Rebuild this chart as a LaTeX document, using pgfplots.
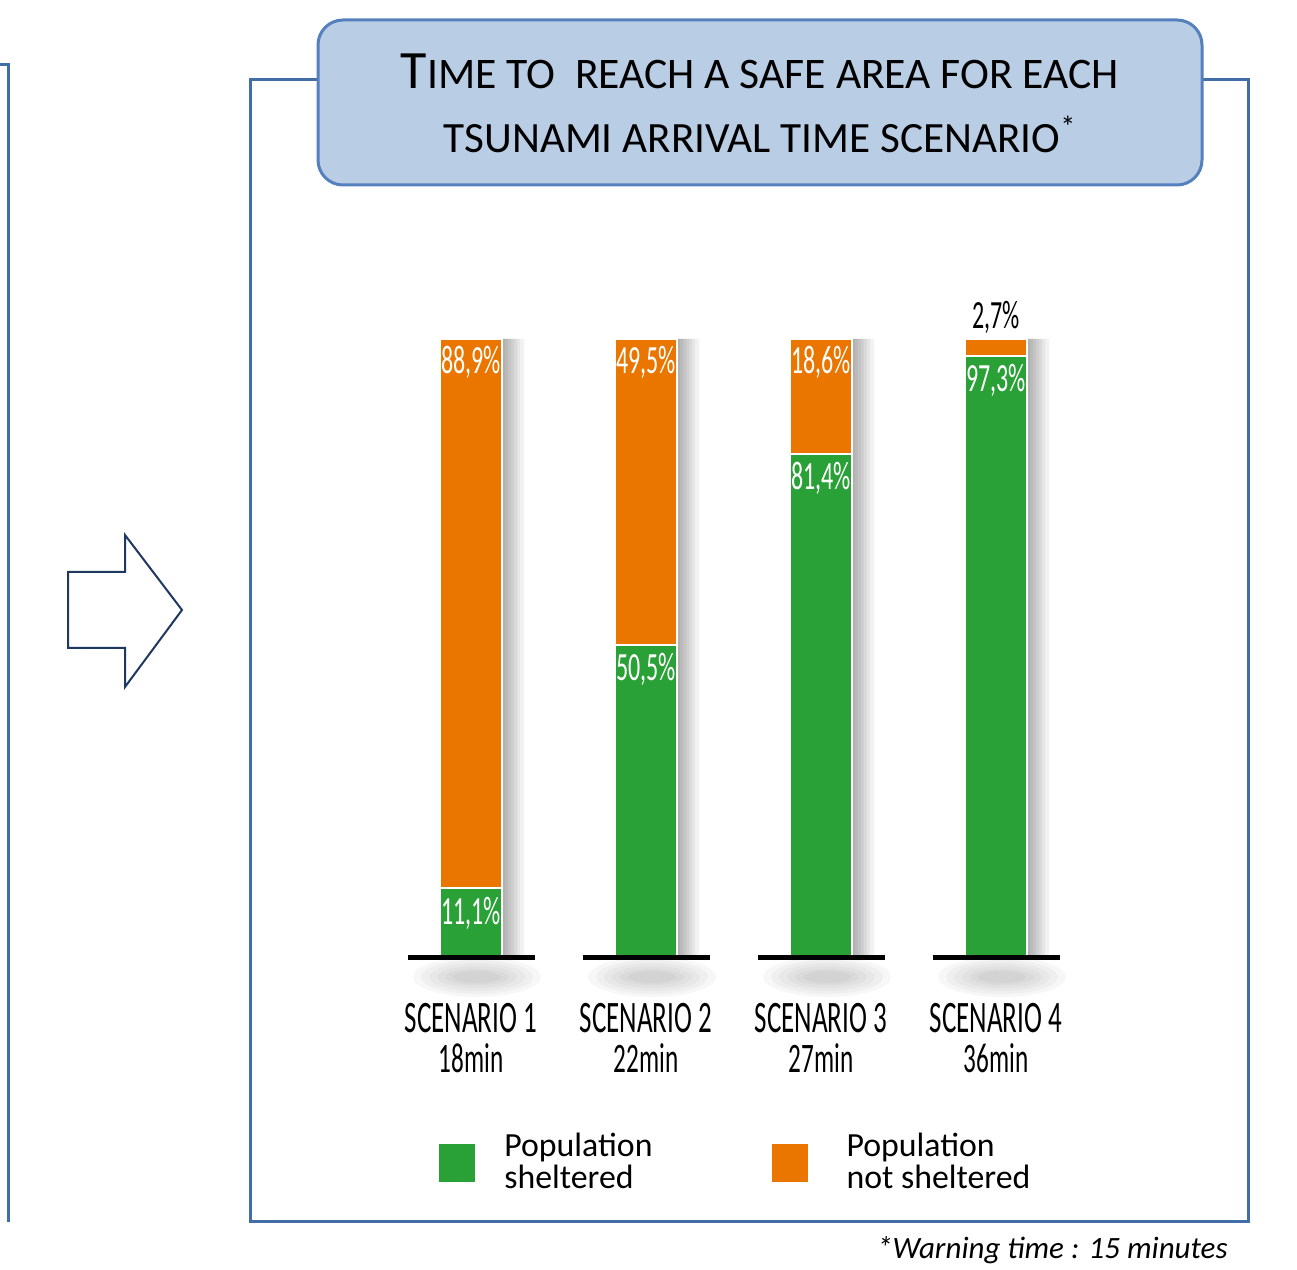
\documentclass[border=0pt]{standalone}
\usepackage{fontspec}
\setmainfont{Carlito}
\newfontfamily\condfont[FakeStretch=0.6]{Carlito}
\usepackage{pgfplots}
\usepackage{pgfplotstable}
\pgfplotsset{compat=1.18}
\definecolor{barorange}{RGB}{234,118,0}
\definecolor{bargreen}{RGB}{41,161,54}
\definecolor{frameblue}{RGB}{66,110,168}
\definecolor{titlefill}{RGB}{185,205,229}
\definecolor{titleborder}{RGB}{84,128,190}
\definecolor{arrowblue}{RGB}{31,56,96}

\pgfplotstableread{
x sheltered notsheltered total
1 11.1 88.9 100
2 50.5 49.5 100
3 81.4 18.6 100
4 97.3 2.7 100
}\datatable

\pgfplotsset{
  chartframe/.style={
    at={(191.75pt,156.5pt)}, anchor=south west, scale only axis,
    width=350pt, height=309pt,
    xmin=0.5, xmax=4.5, ymin=0, ymax=100, clip=false,
  },
  shadowbar/.style={ybar, fill=black, draw=none, opacity=0.05},
}

\begin{document}
\begin{tikzpicture}
\useasboundingbox (0pt,0pt) rectangle (648.5pt,635pt);
\begin{scope}[x=0.5pt,y=0.5pt]
% left partial frame
\draw[frameblue, line width=1.5pt] (0,1205) -- (8,1205) -- (8,48);
% arrow
\draw[arrowblue, line width=1pt, fill=white, line join=miter]
  (68,698) -- (125,698) -- (125,735) -- (182,660) -- (125,583) -- (125,622) -- (68,622) -- cycle;
% main frame
\draw[frameblue, line width=1.5pt] (250,48) rectangle (1248,1190);
% title box
\draw[titleborder, line width=1.5pt, fill=titlefill, rounded corners=12.5pt] (318,1085) rectangle (1202,1250);
\node[anchor=base, inner sep=0pt] at (760,1181)
  {\fontsize{21.8}{21.8}\selectfont{\fontsize{27}{27}\selectfont T}IME TO\ \ REACH A SAFE AREA FOR EACH};
\node[anchor=base, inner sep=0pt] at (760,1117)
  {\fontsize{21.6}{21.6}\selectfont TSUNAMI ARRIVAL TIME SCENARIO\textsuperscript{*}};
% footnote
\node[anchor=base east, inner sep=0pt] at (1228,11)
  {\fontsize{15.5}{15.5}\selectfont\itshape *Warning time : 15 minutes};
\end{scope}

% shadows of the bars
\begin{axis}[chartframe, hide axis]
\addplot[shadowbar, bar width=1.5pt, bar shift=16.25pt] table[x=x,y=total]{\datatable};
\addplot[shadowbar, bar width=3pt, bar shift=17pt] table[x=x,y=total]{\datatable};
\addplot[shadowbar, bar width=4.5pt, bar shift=17.75pt] table[x=x,y=total]{\datatable};
\addplot[shadowbar, bar width=6pt, bar shift=18.5pt] table[x=x,y=total]{\datatable};
\addplot[shadowbar, bar width=7.5pt, bar shift=19.25pt] table[x=x,y=total]{\datatable};
\addplot[shadowbar, bar width=9pt, bar shift=20pt] table[x=x,y=total]{\datatable};
\addplot[shadowbar, bar width=11pt, bar shift=21pt] table[x=x,y=total]{\datatable};
% soft shadow under each baseline (stacked translucent ellipses)
\foreach \c in {1,2,3,4}{
  \foreach \rx/\ry in {32/10,28/8.5,24/7,20/5.5,16/4,12/3}{
    \edef\tmp{\noexpand\fill[black, opacity=0.03]
      ([xshift=3pt,yshift=-10pt]axis cs:\c,0) ellipse (\rx pt and \ry pt);}
    \tmp
  }
}
\end{axis}

\begin{axis}[chartframe,
  ybar stacked, bar width=31pt,
  axis x line*=bottom, axis y line=none,
  x axis line style={draw=none},
  major tick length=0pt,
  xtick={1,2,3,4},
  xticklabels={{SCENARIO 1\\{\fontsize{21}{21}\selectfont 18min}},
               {SCENARIO 2\\{\fontsize{21}{21}\selectfont 22min}},
               {SCENARIO 3\\{\fontsize{21}{21}\selectfont 27min}},
               {SCENARIO 4\\{\fontsize{21}{21}\selectfont 36min}}},
  xticklabel style={align=center, inner sep=0pt, yshift=-23pt,
    font=\condfont\fontsize{22.5}{20}\selectfont},
  legend columns=2,
  legend style={at={(axis description cs:0.0764,-0.332)}, anchor=west,
    draw=none, fill=none, inner sep=0pt,
    font=\fontsize{16.9}{16}\selectfont,
    cells={align=left, anchor=west},
    /tikz/column 1/.style={column sep=11.5pt},
    /tikz/column 2/.style={column sep=56.5pt},
    /tikz/column 3/.style={column sep=16.5pt}},
  legend image code/.code={\fill[#1] (0pt,-10.5pt) rectangle (19pt,9.5pt);},
]
\addplot[fill=bargreen, draw=white, line width=1pt] table[x=x,y=sheltered]{\datatable};
\addplot[fill=barorange, draw=white, line width=1pt] table[x=x,y=notsheltered]{\datatable};
\legend{{Population\\sheltered},{Population\\not sheltered}}
\end{axis}

% overlay: baselines and value labels
\begin{axis}[chartframe, hide axis]
\foreach \c in {1,2,3,4}{
  \edef\tmp{\noexpand\draw[black, line width=2.5pt]
    ([xshift=-31.75pt,yshift=-0.25pt]axis cs:\c,0) -- ([xshift=31.75pt,yshift=-0.25pt]axis cs:\c,0);}
  \tmp
}
\tikzset{lab/.style={inner sep=0pt, text=white, font=\condfont\fontsize{20}{20}\selectfont}}
\node[lab, anchor=north, yshift=-3.5pt] at (axis cs:1,100) {88,9\%};
\node[lab, anchor=north, yshift=-3.5pt] at (axis cs:2,100) {49,5\%};
\node[lab, anchor=north, yshift=-3.5pt] at (axis cs:3,100) {18,6\%};
\node[lab, anchor=south, yshift=2.5pt, text=black] at (axis cs:4,100) {2,7\%};
\node[lab, anchor=north, yshift=-4pt] at (axis cs:1,11.1) {11,1\%};
\node[lab, anchor=north, yshift=-4pt] at (axis cs:2,50.5) {50,5\%};
\node[lab, anchor=north, yshift=-4pt] at (axis cs:3,81.4) {81,4\%};
\node[lab, anchor=north, yshift=-4pt] at (axis cs:4,97.3) {97,3\%};
\end{axis}
\end{tikzpicture}
\end{document}
